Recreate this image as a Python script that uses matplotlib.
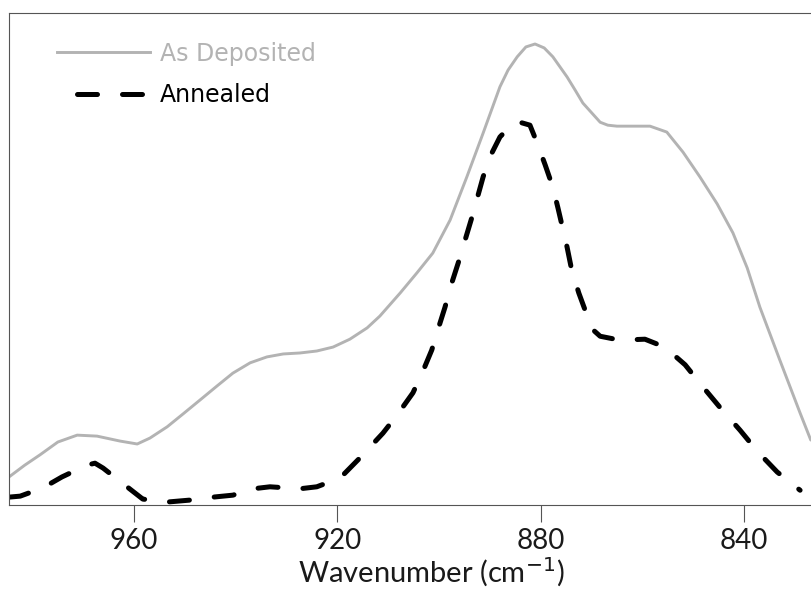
import matplotlib
matplotlib.use("Agg")
import matplotlib.pyplot as plt
from matplotlib.lines import Line2D

# ---- data (wavenumber in cm^-1, absorbance in arbitrary units) ----
wn_dep = [984.5, 981.4, 978.4, 974.9, 971.1, 967.2, 962.7, 959.3, 956.8, 953.4,
          950.3, 947.0, 943.6, 940.5, 937.1, 933.8, 930.6, 927.3, 924.0, 920.8,
          917.5, 914.1, 911.6, 907.6, 904.3, 901.2, 897.8, 894.5, 891.3, 888.0,
          886.4, 884.6, 882.9, 881.1, 879.3, 877.6, 874.8, 873.2, 871.7, 868.3,
          866.8, 865.0, 858.5, 855.2, 852.0, 848.7, 845.3, 842.2, 839.4, 836.9,
          833.0, 829.0, 826.9]
abs_dep = [0.057, 0.081, 0.102, 0.128, 0.142, 0.140, 0.130, 0.124, 0.136, 0.159,
           0.185, 0.213, 0.242, 0.268, 0.289, 0.301, 0.307, 0.309, 0.313, 0.321,
           0.337, 0.360, 0.384, 0.431, 0.472, 0.512, 0.579, 0.667, 0.756, 0.850,
           0.884, 0.911, 0.931, 0.937, 0.929, 0.911, 0.870, 0.843, 0.817, 0.778,
           0.772, 0.770, 0.770, 0.758, 0.717, 0.667, 0.612, 0.553, 0.482, 0.402,
           0.295, 0.187, 0.132]

wn_ann = [984.5, 982.3, 977.8, 974.1, 969.2, 967.6, 966.0, 961.3, 958.2, 953.4,
          948.9, 944.4, 940.5, 936.5, 933.2, 927.3, 924.0, 919.4, 915.5, 911.0,
          908.2, 905.1, 903.3, 901.4, 900.2, 898.8, 897.6, 896.2, 893.5, 891.3,
          890.0, 888.0, 885.4, 884.1, 882.1, 880.7, 879.1, 877.6, 876.6, 874.8,
          873.9, 872.5, 870.9, 869.7, 868.3, 864.4, 859.5, 855.6, 851.6, 848.1,
          844.8, 840.8, 837.3, 833.5, 829.0]
abs_ann = [0.016, 0.018, 0.035, 0.057, 0.081, 0.085, 0.075, 0.037, 0.012, 0.006,
           0.010, 0.016, 0.020, 0.033, 0.037, 0.033, 0.037, 0.055, 0.096, 0.146,
           0.183, 0.228, 0.268, 0.315, 0.356, 0.402, 0.447, 0.492, 0.585, 0.667,
           0.707, 0.748, 0.776, 0.778, 0.772, 0.736, 0.691, 0.646, 0.604, 0.524,
           0.478, 0.431, 0.386, 0.356, 0.343, 0.335, 0.337, 0.321, 0.285, 0.240,
           0.199, 0.152, 0.108, 0.067, 0.030]

xticks = [960, 920, 880, 840]
labels = ["As Deposited", "Annealed"]

FONT = "Lato"
LEGFONT = "DejaVu Sans"
GRAY = "#b3b3b3"

fig = plt.figure(figsize=(8.11, 5.91), dpi=100)
# the plot frame runs past the right edge of the picture (cropped original)
ax = fig.add_axes([9/811, 86/591, 844/811, 492/591])

ax.plot(wn_dep, abs_dep, color=GRAY, lw=2.1, solid_joinstyle="round",
        solid_capstyle="round")
ax.plot(wn_ann, abs_ann, color="black", lw=3.6, linestyle=(0, (4, 5)),
        dash_capstyle="round", dash_joinstyle="round")

ax.set_xlim(984.5, 818.6)
ax.set_ylim(0, 1)
ax.set_xticks(xticks)
ax.set_xticklabels([str(t) for t in xticks], fontsize=20, family=FONT, color="#1a1a1a")
ax.set_yticks([])
ax.tick_params(axis="x", direction="out", length=12.5, width=0.8, color="#555555", pad=4)
for s in ["left", "top", "bottom"]:
    ax.spines[s].set_color("#555555")
    ax.spines[s].set_linewidth(0.8)
ax.spines["right"].set_visible(False)

ax.set_xlabel("Wavenumber (cm$^{-1}$)", fontsize=21, family=FONT, color="#1a1a1a",
              labelpad=1)

handles = [Line2D([], [], color=GRAY, lw=2.1),
           Line2D([], [], color="black", lw=3.6, linestyle=(5, (4, 5)),
                  dash_capstyle="round")]
leg = ax.legend(handles, labels, loc="upper left", frameon=False,
                prop={"family": LEGFONT, "size": 17}, handlelength=3.94,
                handletextpad=0.42, labelspacing=0.74,
                bbox_to_anchor=(0.0315, 0.985))
leg.get_texts()[0].set_color(GRAY)
leg.get_texts()[1].set_color("black")

fig.savefig("out.png", dpi=100)
